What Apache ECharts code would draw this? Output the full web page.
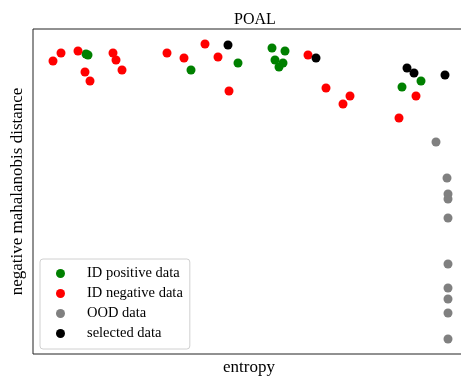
<!DOCTYPE html>
<html>
<head>
<meta charset="utf-8">
<script src="https://cdn.jsdelivr.net/npm/echarts@6/dist/echarts.min.js"></script>
<style>
  html, body { margin: 0; padding: 0; background: #fff; }
  #chart { width: 461px; height: 377px; }
</style>
</head>
<body>
<div id="chart"></div>
<script>
// [entropy, negative mahalanobis distance] (arbitrary units)
const idPositive = [
  [53, 300], [55, 299], [158, 284], [205, 291], [239, 306], [252, 303],
  [242, 294], [250, 291], [246, 287], [369, 267], [388, 273]
];
const idNegative = [
  [20, 293], [28, 301], [45, 303], [52, 282], [57, 273], [80, 301], [83, 294],
  [89, 284], [134, 301], [151, 296], [172, 310], [185, 297], [196, 263],
  [275, 299], [293, 266], [317, 258], [310, 250], [383, 258], [366, 236]
];
const oodData = [
  [403, 212], [414, 176], [415, 160], [415, 155], [415, 136],
  [415, 90], [415, 66], [415, 55], [415, 41], [415, 15]
];
const selectedData = [
  [195, 309], [283, 296], [374, 286], [381, 281], [412, 279]
];

const serif = '"Liberation Serif", "DejaVu Serif", serif';
const chart = echarts.init(document.getElementById('chart'));

function scatter(name, data, color) {
  return {
    name, type: 'scatter', data,
    symbol: 'circle', symbolSize: 9,
    itemStyle: { color, opacity: 1 },
    emphasis: { disabled: true },
    animation: false
  };
}

chart.setOption({
  animation: false,
  title: {
    text: 'POAL', left: 250, top: 7, textAlign: 'center',
    textStyle: { fontFamily: serif, fontSize: 16, fontWeight: 'normal', color: '#000' }
  },
  grid: {
    left: 33, top: 29, width: 432, height: 325,
    containLabel: false, outerBoundsMode: 'none',
    show: true, borderColor: '#222', borderWidth: 1, backgroundColor: '#fff'
  },
  xAxis: {
    type: 'value', min: 0, max: 432,
    name: 'entropy', nameLocation: 'middle', nameGap: 5,
    nameTextStyle: { fontFamily: serif, fontSize: 17, color: '#000' },
    axisLine: { show: false }, axisTick: { show: false },
    axisLabel: { show: false }, splitLine: { show: false }
  },
  yAxis: {
    type: 'value', min: 0, max: 325,
    name: 'negative mahalanobis distance', nameLocation: 'middle', nameGap: 7,
    nameTextStyle: { fontFamily: serif, fontSize: 17, color: '#000' },
    axisLine: { show: false }, axisTick: { show: false },
    axisLabel: { show: false }, splitLine: { show: false }
  },
  legend: {
    orient: 'vertical', left: 40, top: 259,
    padding: [7, 7, 8, 16],
    itemWidth: 9, itemHeight: 9, itemGap: 5,
    icon: 'circle',
    backgroundColor: '#fff', borderColor: '#d0d0d0', borderWidth: 1, borderRadius: 3,
    textStyle: { fontFamily: serif, fontSize: 14.5, lineHeight: 14, color: '#000', padding: [0, 0, 0, 17] },
    data: ['ID positive data', 'ID negative data', 'OOD data', 'selected data']
  },
  series: [
    scatter('ID positive data', idPositive, '#008000'),
    scatter('ID negative data', idNegative, '#ff0000'),
    scatter('OOD data', oodData, '#808080'),
    scatter('selected data', selectedData, '#000000')
  ]
});
</script>
</body>
</html>
